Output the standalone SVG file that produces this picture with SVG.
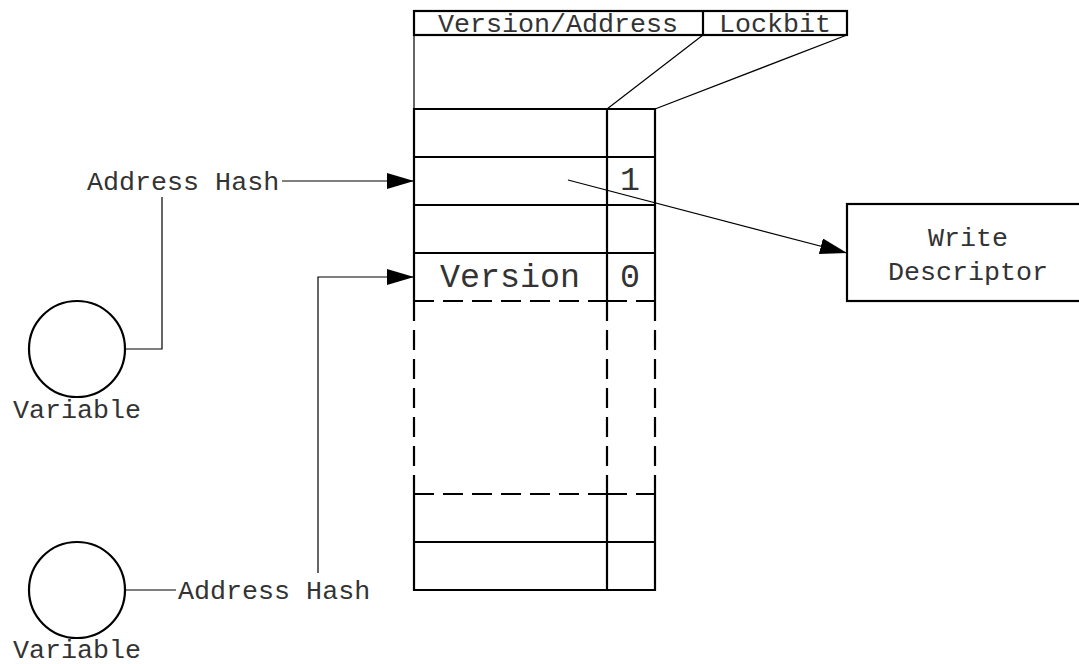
<svg xmlns="http://www.w3.org/2000/svg" width="1079" height="664" viewBox="0 0 1079 664">
<defs>
<marker id="arr" markerUnits="userSpaceOnUse" markerWidth="28" markerHeight="18" refX="27" refY="8" orient="auto">
<path d="M0,0 L27,8 L0,16 Z" fill="#000"/>
</marker>
<style>
.t{font-family:"Liberation Mono","Courier New",monospace;font-size:26.7px;fill:#333}
.tb{font-family:"Liberation Mono","Courier New",monospace;font-size:33.3px;fill:#333}
.thick{fill:none;stroke:#000;stroke-width:2.2}
.dash{fill:none;stroke:#000;stroke-width:2.2;stroke-dasharray:20 9}
.thin{fill:none;stroke:#000;stroke-width:1.2}
</style>
</defs>
<rect width="1079" height="664" fill="#fff"/>
<g id="header">
<rect class="thick" x="414" y="11" width="433" height="24"/>
<line class="thick" x1="703" y1="11" x2="703" y2="35"/>
<text class="t" x="558" y="32" text-anchor="middle">Version/Address</text>
<text class="t" x="775" y="32" text-anchor="middle">Lockbit</text>
</g>
<g id="table">
<path class="thick" d="M414,301 V109 H655 V301 M607,109 V301 M414,157 H655 M414,205 H655 M414,253 H655"/>
<text class="tb" x="630" y="190" text-anchor="middle">1</text>
<text class="tb" x="510" y="287" text-anchor="middle">Version</text>
<text class="tb" x="630" y="287" text-anchor="middle">0</text>
<path class="dash" d="M414,301 H607 M607,301 H655 M414,301 V494 M607,301 V494 M655,301 V494 M414,494 H607 M607,494 H655"/>
<path class="thick" d="M414,494 V590 H655 V494 M607,494 V590 M414,542 H655"/>
</g>
<g id="write-descriptor">
<rect class="thick" x="847" y="204" width="242" height="97"/>
<text class="t" x="968" y="246" text-anchor="middle">Write</text>
<text class="t" x="968" y="280" text-anchor="middle">Descriptor</text>
</g>
<g id="variable1">
<circle class="thick" cx="77" cy="349" r="48"/>
<text class="t" x="13" y="418">Variable</text>
</g>
<g id="variable2">
<circle class="thick" cx="77" cy="590" r="48"/>
<text class="t" x="13" y="658">Variable</text>
</g>
<g id="labels">
<text class="t" x="87" y="190">Address Hash</text>
<text class="t" x="178" y="599">Address Hash</text>
</g>
<g id="connectors">
<line class="thin" x1="414" y1="35" x2="414" y2="109"/>
<line class="thin" x1="703" y1="35" x2="607" y2="109"/>
<line class="thin" x1="847" y1="35" x2="655" y2="109"/>
<line class="thin" x1="282" y1="181" x2="414" y2="181" marker-end="url(#arr)"/>
<polyline class="thin" points="125,349 162,349 162,197"/>
<polyline class="thin" points="318,573 318,277 414,277" marker-end="url(#arr)"/>
<line class="thin" x1="125" y1="590" x2="176" y2="590"/>
<line class="thin" x1="568" y1="180" x2="847" y2="253" marker-end="url(#arr)"/>
</g>
</svg>
